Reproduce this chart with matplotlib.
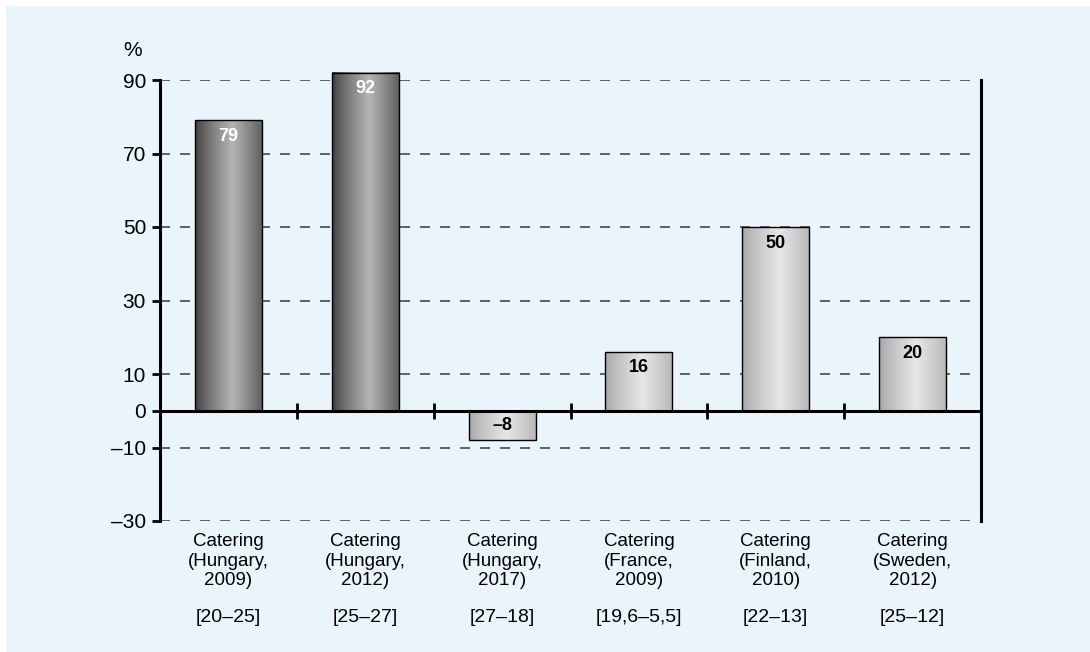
import numpy as np
import matplotlib
matplotlib.use('Agg')
import matplotlib.pyplot as plt
from matplotlib.patches import Rectangle
from matplotlib.colors import LinearSegmentedColormap

plt.rcParams['font.family'] = ['Liberation Sans', 'DejaVu Sans']

# Data
categories = ['Catering\n(Hungary,\n2009)', 'Catering\n(Hungary,\n2012)', 'Catering\n(Hungary,\n2017)',
              'Catering\n(France,\n2009)', 'Catering\n(Finland,\n2010)', 'Catering\n(Sweden,\n2012)']
ranges = ['[20–25]', '[25–27]', '[27–18]', '[19,6–5,5]', '[22–13]', '[25–12]']
values = [79, 92, -8, 16, 50, 20]
value_labels = ['79', '92', '–8', '16', '50', '20']
dark = [True, True, False, False, False, False]
yticks = [90, 70, 50, 30, 10, 0, -10, -30]
ytick_labels = ['90', '70', '50', '30', '10', '0', '–10', '–30']
grid_levels = [90, 70, 50, 30, 10, -10, -30]

bg = '#eaf4fb'
fig = plt.figure(figsize=(10.9, 6.52), dpi=100, facecolor='white')
fig.patches.append(Rectangle((6 / 1090, 0), 1, 1 - 6 / 652, transform=fig.transFigure,
                             facecolor=bg, edgecolor='none', zorder=-10))

ax = fig.add_axes([160 / 1090, 131 / 652, 821 / 1090, 441 / 652])
ax.patch.set_alpha(0)

n = len(values)
px_per_unit = 441 / 120

# gradient profile across each bar (highlight a bit right of centre)
prof = np.linspace(0, 1, 200)
shape = np.clip(1 - np.abs(prof - 0.55) / 0.55, 0, 1) ** 0.8
dark_cmap = LinearSegmentedColormap.from_list('d', ['#3c3c3c', '#b4b4b4'])
light_cmap = LinearSegmentedColormap.from_list('l', ['#a6a6a6', '#e6e6e6'])

bw = 0.49
for i, v in enumerate(values):
    x0 = i + 0.5 - bw / 2
    x1 = i + 0.5 + bw / 2
    cmap = dark_cmap if dark[i] else light_cmap
    ax.imshow(shape[np.newaxis, :], cmap=cmap, aspect='auto', extent=(x0, x1, min(0, v), max(0, v)),
              zorder=3, clip_on=False, interpolation='bilinear')
    ax.add_patch(Rectangle((x0, 0), bw, v, facecolor='none', edgecolor='black', lw=1.0,
                           zorder=4, clip_on=False))
    ty = v - 16 / px_per_unit if v >= 0 else v / 2
    ax.text(i + 0.5, ty, value_labels[i], ha='center', va='center', fontsize=13, fontweight='bold',
            color='white' if dark[i] else 'black', zorder=5)

ax.set_xlim(0, n)
ax.set_ylim(-30, 90)

for g in grid_levels:
    ax.axhline(g, color='#484848', lw=1.2, dashes=(6, 6), zorder=1)
ax.axhline(0, color='black', lw=2.2, zorder=6)
for b in range(1, n):
    ax.vlines(b, -2.2, 2.2, color='black', lw=2, zorder=6)

for s in ['top', 'bottom']:
    ax.spines[s].set_visible(False)
ax.spines['left'].set_linewidth(2.2)
ax.spines['right'].set_linewidth(2.2)

ax.set_yticks(yticks)
ax.set_yticklabels(ytick_labels, fontsize=15)
ax.tick_params(axis='y', length=6, width=2, pad=4)
ax.set_xticks([i + 0.5 for i in range(n)])
ax.set_xticklabels(categories, fontsize=13.5, linespacing=1.18)
ax.tick_params(axis='x', length=0, pad=9)

for i, r in enumerate(ranges):
    ax.text(i + 0.5, -30 - (618 - 521) / px_per_unit, r, ha='center', va='center',
            fontsize=14, clip_on=False)

fig.text(133 / 1090, 1 - 50 / 652, '%', ha='center', va='center', fontsize=15)

fig.savefig('out.png', dpi=100, facecolor='white')
